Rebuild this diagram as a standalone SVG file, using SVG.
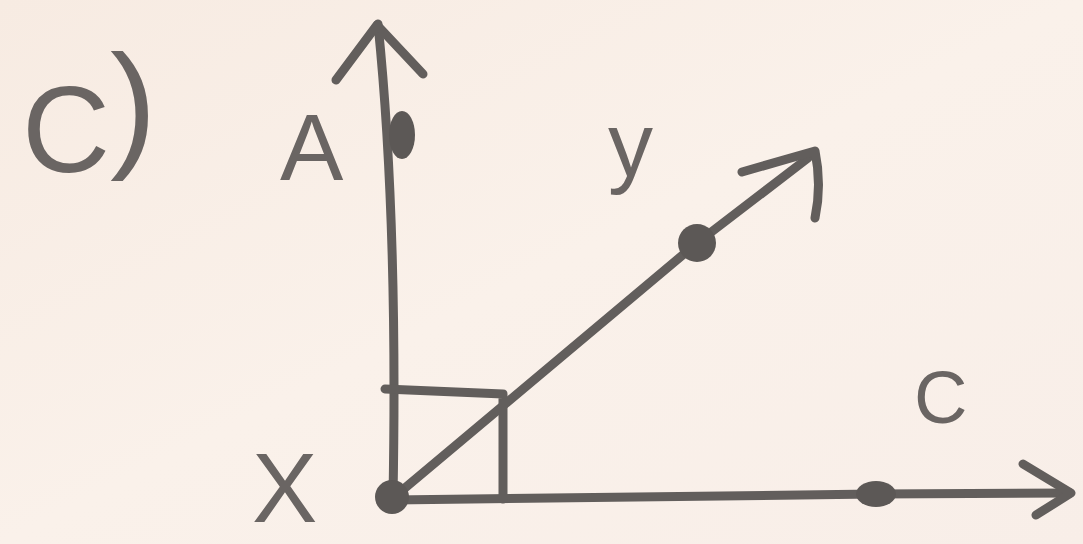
<svg xmlns="http://www.w3.org/2000/svg" width="1083" height="544" viewBox="0 0 1083 544">
  <style>
    .ln { fill: none; stroke: #625e5c; stroke-width: 9; stroke-linecap: round; stroke-linejoin: round; }
    .dot { fill: #5c5856; }
    .lbl { font-family: "Liberation Sans", Arial, sans-serif; fill: #6a6563; }
  </style>
  <defs>
    <linearGradient id="bg" x1="0" y1="0" x2="1" y2="1">
      <stop offset="0" stop-color="#f7ebe2"/>
      <stop offset="0.5" stop-color="#faf1ea"/>
      <stop offset="1" stop-color="#f8eee8"/>
    </linearGradient>
  </defs>
  <rect width="1083" height="544" fill="url(#bg)"/>

  <g id="title">
    <text class="lbl" x="22" y="172" font-size="122">C<tspan dy="-20" font-size="140">)</tspan></text>
  </g>

  <g id="connectors">
    <!-- vertical ray X to A -->
    <path id="ray-XA" class="ln" d="M393,498 Q398,220 378,24"/>
    <path class="ln" d="M336,80 L377,25 L423,74"/>
    <!-- diagonal ray X to y -->
    <path id="ray-Xy" class="ln" d="M393,498 L697,243 L808,158"/>
    <path class="ln" d="M742,172 L815,151 Q822,185 815,218"/>
    <!-- horizontal ray X to C -->
    <path id="ray-XC" class="ln" d="M393,500 L875,494 L1070,493"/>
    <path class="ln" d="M1023,464 L1071,493 L1036,515"/>
    <!-- right angle box -->
    <path id="right-angle" class="ln" d="M385,389 L503,394 L503,499"/>
  </g>

  <g id="node-X">
    <circle class="dot" cx="392" cy="497" r="17"/>
    <text class="lbl" x="252" y="522" font-size="98">X</text>
  </g>
  <g id="node-A">
    <ellipse class="dot" cx="402" cy="135" rx="13" ry="24"/>
    <text class="lbl" x="280" y="180" font-size="95">A</text>
  </g>
  <g id="node-y">
    <circle class="dot" cx="697" cy="243" r="19"/>
    <text class="lbl" x="608" y="176" font-size="90">y</text>
  </g>
  <g id="node-C">
    <ellipse class="dot" cx="876" cy="494" rx="20" ry="13"/>
    <text class="lbl" x="914" y="423" font-size="74">C</text>
  </g>
</svg>
